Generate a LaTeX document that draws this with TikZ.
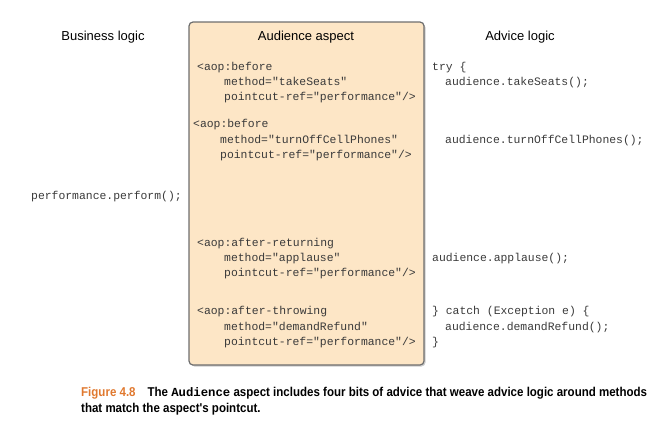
\documentclass[tikz,border=0pt]{standalone}
\usepackage{fontspec}
\setmainfont{Liberation Sans}
\newfontfamily\codefont{Liberation Mono}
\newfontfamily\capfont[FakeStretch=0.9]{Liberation Sans}
\newfontfamily\capmono{Liberation Mono}
\definecolor{boxfill}{HTML}{FDE6C6}
\definecolor{boxline}{HTML}{6E6E6E}
\definecolor{codegray}{HTML}{3A3A3A}
\definecolor{figorange}{HTML}{E0782E}
\tikzset{
  head/.style={font=\fontsize{13}{15}\selectfont, text=black, inner sep=0pt, anchor=base},
  code/.style={font=\codefont\fontsize{11.4}{14}\selectfont, text=codegray, inner sep=0pt, anchor=base west},
  captext/.style={font=\capfont\bfseries\fontsize{12.8}{14}\selectfont, text=black, inner sep=0pt, anchor=base west},
  aspectbox/.style={draw=boxline, line width=1.2pt, fill=boxfill, rounded corners=4pt}
}
\begin{document}
\begin{tikzpicture}[x=1pt,y=-1pt]
\useasboundingbox (0,0) rectangle (653,426);
% box
\fill[gray!40, rounded corners=4pt] (190.5,23.5) rectangle (425.5,366.5);
\draw[aspectbox] (189,22) rectangle (424,365);
% headings
\node[head] (h1) at (103,40) {Business logic};
\node[head] (h2) at (306,40) {Audience aspect};
\node[head] (h3) at (520,40) {Advice logic};
% aspect code
\node[code] (a1) at (197,70) {<aop:before};
\node[code] (a2) at (224,85) {method="takeSeats"};
\node[code] (a3) at (224,100) {pointcut-ref="performance"/>};
\node[code] (b1) at (193,127) {<aop:before};
\node[code] (b2) at (220,143) {method="turnOffCellPhones"};
\node[code] (b3) at (220,158) {pointcut-ref="performance"/>};
\node[code] (c1) at (197,246) {<aop:after-returning};
\node[code] (c2) at (224,261) {method="applause"};
\node[code] (c3) at (224,276) {pointcut-ref="performance"/>};
\node[code] (d1) at (197,314) {<aop:after-throwing};
\node[code] (d2) at (224,330) {method="demandRefund"};
\node[code] (d3) at (224,345) {pointcut-ref="performance"/>};
% business
\node[code] (p) at (31,199) {performance.perform();};
% advice
\node[code] (r1) at (432,70) {try \{};
\node[code] (r2) at (445,85) {audience.takeSeats();};
\node[code] (r3) at (445,143) {audience.turnOffCellPhones();};
\node[code] (r4) at (432,261) {audience.applause();};
\node[code] (r5) at (432,314) {\} catch (Exception e) \{};
\node[code] (r6) at (445,330) {audience.demandRefund();};
\node[code] (r7) at (432,345) {\}};
% caption
\node[captext] (f1) at (81,396) {\textcolor{figorange}{Figure 4.8}\hspace{12pt}The {\capmono\fontsize{12.3}{14}\selectfont Audience} aspect includes four bits of advice that weave advice logic around methods};
\node[captext] (f2) at (81,412) {that match the aspect's pointcut.};
\end{tikzpicture}
\end{document}
